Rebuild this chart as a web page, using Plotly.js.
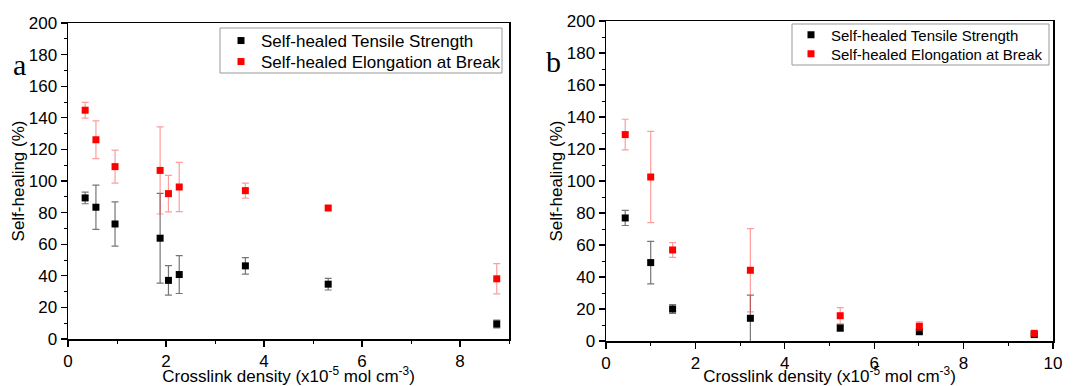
<!DOCTYPE html>
<html>
<head>
<meta charset="utf-8">
<script src="https://cdn.plot.ly/plotly-3.0.1.min.js"></script>
<style>html,body{margin:0;padding:0;background:#fff;}#chart{width:1080px;height:386px;}</style>
</head>
<body>
<div id="chart"></div>
<script>
// Panel a
const xA = [0.35, 0.57, 0.96, 1.88, 2.05, 2.27, 3.62, 5.31, 8.75];
const tensileA = [89.3, 83.4, 72.8, 63.8, 37.1, 40.8, 46.3, 34.7, 9.5];
const tensileErrA = [3.7, 14, 14, 28.4, 9.3, 12, 5.2, 3.7, 2.5];
const elongA = [144.8, 126.1, 109.1, 106.7, 92.0, 96.2, 93.9, 82.9, 38.1];
const elongErrA = [5, 12, 10.5, 27.6, 11.6, 15.6, 4.7, 1, 9.6];
// Panel b
const xB = [0.43, 1.0, 1.49, 3.23, 5.24, 7.01, 9.58];
const tensileB = [76.9, 49.0, 20.0, 14.2, 8.1, 5.8, 4.0];
const tensileErrB = [4.7, 13.3, 2.7, 14.5, 2, 1.5, 1];
const elongB = [129.0, 102.5, 56.9, 44.2, 15.8, 9.2, 4.8];
const elongErrB = [9.6, 28.5, 4.6, 26, 5, 2.7, 1];

const seriesNames = ['Self-healed Tensile Strength', 'Self-healed Elongation at Break'];
const xTitle = 'Crosslink density (x10<sup>-5</sup> mol cm<sup>-3</sup>)';
const yTitle = 'Self-healing (%)';

const FONT = 'Liberation Sans, Arial, sans-serif';

function tr(x, y, err, name, color, errColor, xa, ya, leg) {
  return {
    x: x, y: y, type: 'scatter', mode: 'markers', name: name,
    xaxis: xa, yaxis: ya, legend: leg,
    marker: {symbol: 'square', size: 7, color: color},
    error_y: {type: 'data', array: err, visible: true, color: errColor, thickness: 1.2, width: 3.5}
  };
}

const data = [
  tr(xA, tensileA, tensileErrA, seriesNames[0], '#000000', 'rgba(60,60,60,0.7)', 'x', 'y', 'legend'),
  tr(xA, elongA, elongErrA, seriesNames[1], '#ff0000', 'rgba(255,60,60,0.5)', 'x', 'y', 'legend2'),
  tr(xB, tensileB, tensileErrB, seriesNames[0], '#000000', 'rgba(60,60,60,0.7)', 'x2', 'y2', 'legend3'),
  tr(xB, elongB, elongErrB, seriesNames[1], '#ff0000', 'rgba(255,60,60,0.5)', 'x2', 'y2', 'legend4')
];

const W = 1080, H = 386;
function xd(a, b) { return [a / W, b / W]; }
function yd(top, bottom) { return [(H - bottom) / H, (H - top) / H]; }

function xaxis(range, dom, anchor) {
  return {
    domain: dom, range: range, anchor: anchor, dtick: 2, tick0: 0,
    showgrid: false, zeroline: false,
    showline: true, linecolor: '#000', linewidth: 1.5, mirror: true,
    ticks: 'outside', ticklen: 6, tickwidth: 1.2, tickcolor: '#000',
    minor: {dtick: 1, ticks: 'outside', ticklen: 3, tickwidth: 1, tickcolor: '#000'},
    tickfont: {family: FONT, size: 17, color: '#000'},
    title: {text: xTitle, font: {family: FONT, size: 17, color: '#000'}, standoff: 0}
  };
}
function yaxis(dom, anchor) {
  return {
    domain: dom, range: [0, 200], anchor: anchor, dtick: 20, tick0: 0,
    showgrid: false, zeroline: false,
    showline: true, linecolor: '#000', linewidth: 1.5, mirror: true,
    ticks: 'outside', ticklen: 6, tickwidth: 1.2, tickcolor: '#000',
    minor: {dtick: 10, ticks: 'outside', ticklen: 3, tickwidth: 1, tickcolor: '#000'},
    tickfont: {family: FONT, size: 17, color: '#000'},
    title: {text: yTitle, font: {family: FONT, size: 17, color: '#000'}, standoff: 0}
  };
}

function leg(xpx, ypx, size) {
  return {
    x: xpx / W, y: (H - ypx) / H, xanchor: 'left', yanchor: 'middle',
    bgcolor: 'rgba(0,0,0,0)', borderwidth: 0,
    font: {family: FONT, size: size, color: '#000'}
  };
}

const layout = {
  width: W, height: H,
  margin: {l: 0, r: 0, t: 0, b: 0},
  paper_bgcolor: '#fff', plot_bgcolor: '#fff',
  font: {family: FONT, color: '#000'},
  xaxis: xaxis([0, 9], xd(68, 509), 'y'),
  yaxis: yaxis(yd(23, 339), 'x'),
  xaxis2: xaxis([0, 10], xd(606, 1053), 'y2'),
  yaxis2: yaxis(yd(21, 341), 'x2'),
  legend: leg(221, 41, 17),
  legend2: leg(221, 62, 17),
  legend3: leg(791, 35, 15),
  legend4: leg(791, 54, 15),
  shapes: [
    {type: 'rect', xref: 'paper', yref: 'paper', x0: 220 / W, x1: 502 / W, y0: (H - 73) / H, y1: (H - 28) / H,
     line: {color: '#999', width: 1}, fillcolor: 'rgba(0,0,0,0)'},
    {type: 'rect', xref: 'paper', yref: 'paper', x0: 792 / W, x1: 1049 / W, y0: (H - 65) / H, y1: (H - 24) / H,
     line: {color: '#999', width: 1}, fillcolor: 'rgba(0,0,0,0)'}
  ],
  annotations: [
    {text: 'a', xref: 'paper', yref: 'paper', x: 19.5 / W, y: (H - 64) / H, showarrow: false,
     xanchor: 'center', yanchor: 'middle', font: {family: 'Liberation Serif, Times New Roman, serif', size: 30, color: '#000'}},
    {text: 'b', xref: 'paper', yref: 'paper', x: 553 / W, y: (H - 61) / H, showarrow: false,
     xanchor: 'center', yanchor: 'middle', font: {family: 'Liberation Serif, Times New Roman, serif', size: 30, color: '#000'}}
  ],
  showlegend: true
};

Plotly.newPlot('chart', data, layout, {displayModeBar: false, staticPlot: true});
</script>
</body>
</html>
